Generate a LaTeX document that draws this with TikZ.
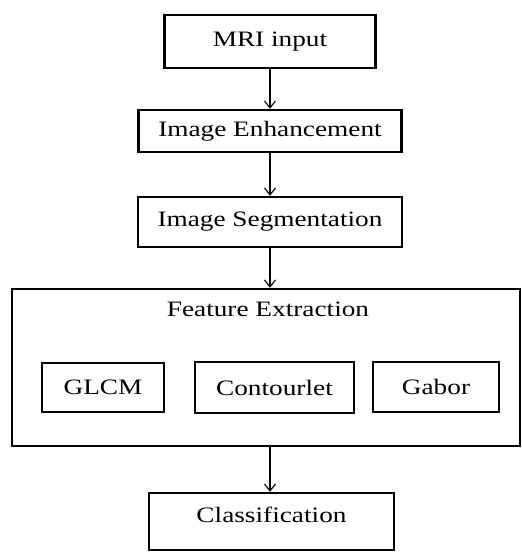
\documentclass[tikz,border=0pt]{standalone}
\usepackage{fontspec}
\setmainfont{Liberation Serif}[FakeStretch=1.24]
\usetikzlibrary{arrows.meta}
\begin{document}
\begin{tikzpicture}[x=1pt,y=-1pt,
  box/.style={draw=black,line width=2.4pt,rectangle,inner sep=0pt,font=\fontsize{22}{25}\selectfont},
  lbl/.style={inner sep=0pt,font=\fontsize{22}{25}\selectfont},
  arr/.style={line width=1.1pt,-{Straight Barb[length=7pt,width=11pt,line width=1.1pt]}}]
\useasboundingbox (0,0) rectangle (522,552);
\node[box,minimum width=211pt,minimum height=53pt] (mri) at (270,41.5) {MRI input};
\node[box,minimum width=263pt,minimum height=42pt] (enh) at (270,131) {Image Enhancement};
\node[box,minimum width=264pt,minimum height=50pt] (seg) at (270,222) {Image Segmentation};
\node[box,minimum width=508pt,minimum height=157pt] (fe) at (266,367.5) {};
\node[lbl] (fet) at (268,309) {Feature Extraction};
\node[box,minimum width=122pt,minimum height=49pt] (glcm) at (103,387.5) {GLCM};
\node[box,minimum width=159pt,minimum height=51pt] (cont) at (274.5,387.5) {Contourlet};
\node[box,minimum width=126pt,minimum height=50pt] (gab) at (436,387) {Gabor};
\node[box,minimum width=245pt,minimum height=57pt,text depth=14pt] (cls) at (271.5,521.5) {Classification};
\draw[arr] (mri.south) -- (enh.north);
\draw[arr] (enh.south) -- (seg.north);
\draw[arr] (seg.south) -- (seg.south |- fe.north);
\draw[arr] (fe.south -| seg.south) -- (cls.north -| seg.south);
\end{tikzpicture}
\end{document}
